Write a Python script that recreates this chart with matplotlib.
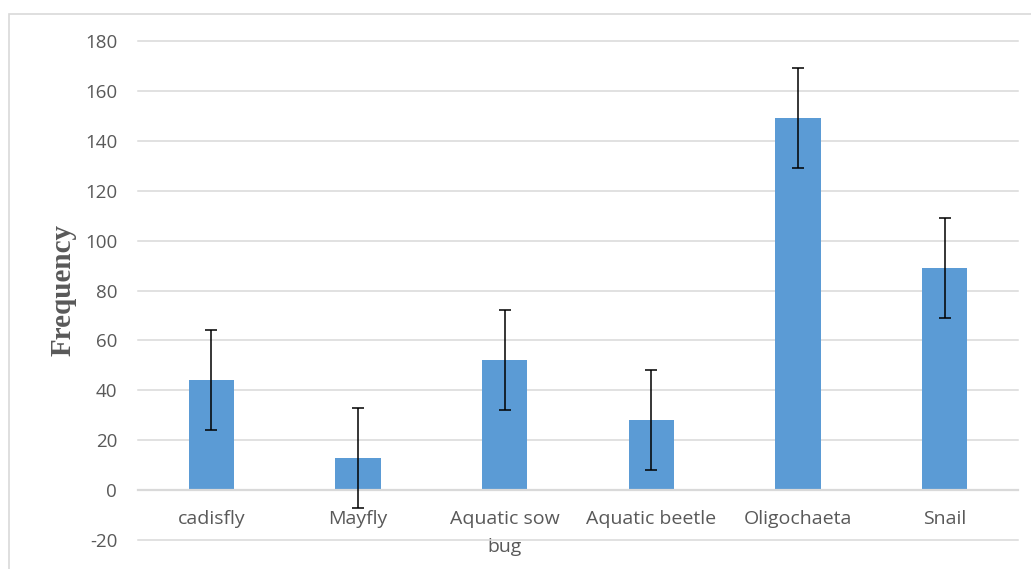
import matplotlib.pyplot as plt
from matplotlib.patches import Rectangle

plt.rcParams['axes.unicode_minus'] = False

# data
species = ['cadisfly', 'Mayfly', 'Aquatic sow\nbug', 'Aquatic beetle', 'Oligochaeta', 'Snail']
frequency = [44, 13, 52, 28, 149, 89]
errors = [20, 20, 20, 20, 20, 20]
yticks = [-20, 0, 20, 40, 60, 80, 100, 120, 140, 160, 180]

fig = plt.figure(figsize=(10.31, 5.69), dpi=100)
ax = fig.add_axes([138 / 1031, 29 / 569, 880 / 1031, 499 / 569])

# outer chart border (only top and left visible in the crop)
fig.patches.append(Rectangle((9 / 1031, -0.1), 1.2, (569 - 14) / 569 + 0.1,
                             transform=fig.transFigure, fill=False,
                             edgecolor='#d9d9d9', linewidth=1.2))

x = list(range(len(species)))
ax.bar(x, frequency, width=0.31, color='#5b9bd5', zorder=2)
ax.errorbar(x, frequency, yerr=errors, fmt='none', ecolor='black',
            elinewidth=1.1, capsize=4, capthick=1.1, zorder=3)

for side in ['top', 'right', 'left']:
    ax.spines[side].set_visible(False)
ax.spines['bottom'].set_position(('data', 0))
ax.spines['bottom'].set_color('#d9d9d9')
ax.spines['bottom'].set_linewidth(1.6)

ax.set_xlim(-0.5, len(species) - 0.5)
ax.set_ylim(-20, 180)
ax.set_yticks(yticks)
ax.set_xticks(x)
ax.set_xticklabels(species, fontsize=14, color='#595959', family='Open Sans',
                   linespacing=1.75, va='top')
for lbl in ax.get_yticklabels():
    lbl.set_fontsize(13.5)
    lbl.set_color('#595959')
    lbl.set_family('Open Sans')

ax.grid(axis='y', color='#d9d9d9', linewidth=1.1, zorder=0)
for g in ax.get_ygridlines():
    g.set_clip_on(False)
ax.set_axisbelow(True)

ax.tick_params(axis='x', length=0, pad=14)
ax.tick_params(axis='y', length=0, pad=15)

ax.set_ylabel('Frequency', fontsize=21, fontweight='bold', color='#595959',
              family='Liberation Serif', labelpad=6)

plt.savefig('out.png', dpi=100)
